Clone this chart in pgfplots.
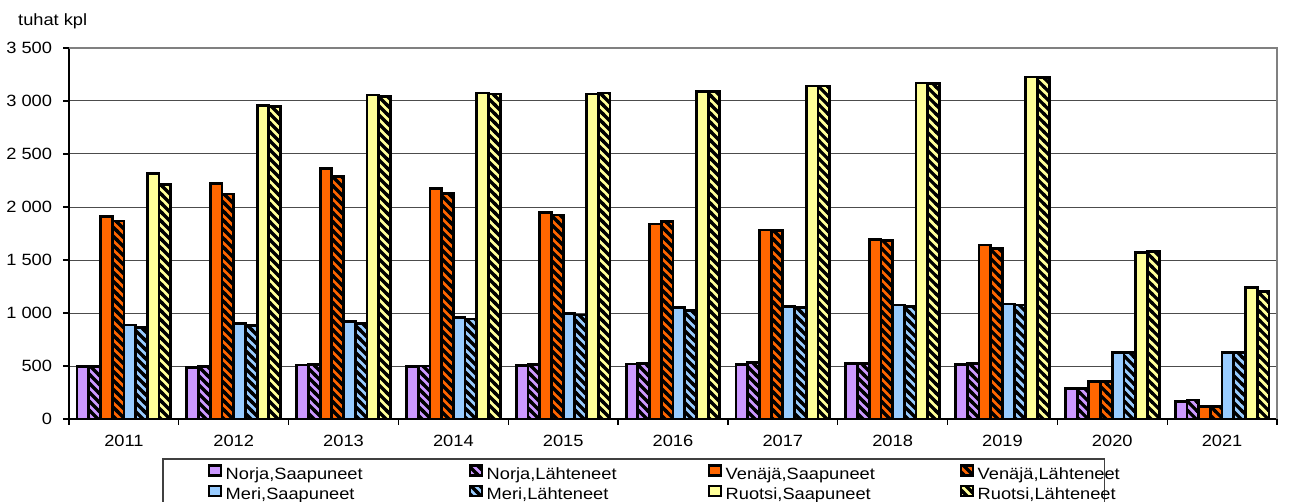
\documentclass[border=0pt]{standalone}
\usepackage{fontspec}
\setmainfont{Liberation Sans}[FakeStretch=1.12]
\usepackage{pgfplots}
\pgfplotsset{compat=1.18}
\usetikzlibrary{patterns}
\definecolor{norja}{HTML}{CC99FF}
\definecolor{venaja}{HTML}{FF6600}
\definecolor{meri}{HTML}{99CCFF}
\definecolor{ruotsi}{HTML}{FFFF99}
\pgfdeclarepatternformonly{wdd}{\pgfqpoint{-1pt}{-1pt}}{\pgfqpoint{10pt}{10pt}}{\pgfqpoint{9pt}{9pt}}{%
  \pgfsetlinewidth{3.2pt}%
  \pgfpathmoveto{\pgfqpoint{-1pt}{10pt}}\pgfpathlineto{\pgfqpoint{10pt}{-1pt}}%
  \pgfpathmoveto{\pgfqpoint{-1pt}{1pt}}\pgfpathlineto{\pgfqpoint{1pt}{-1pt}}%
  \pgfpathmoveto{\pgfqpoint{8pt}{10pt}}\pgfpathlineto{\pgfqpoint{10pt}{8pt}}%
  \pgfusepath{stroke}}
\tikzset{hatch/.style={postaction={pattern=wdd, pattern color=black}},
  bo/.style={draw=black, line width=2.8pt}}
\begin{document}
\fontsize{16.3}{19}\selectfont
\begin{tikzpicture}
\useasboundingbox (0,0) rectangle (1290pt,501pt);
\node[anchor=base west, inner sep=0pt] at (18pt,475pt) {tuhat kpl};
\begin{axis}[
  at={(69pt,82pt)}, anchor=south west,
  scale only axis, width=1208pt, height=371pt,
  ybar=0pt, bar width=11.71pt,
  xmin=-0.5, xmax=10.5, ymin=0, ymax=3500,
  enlargelimits=false,
  axis lines=left, axis line style={-, line width=1.5pt, black},
  tick align=outside, major tick length=5.5pt,
  tick style={black, line width=1.2pt},
  xtick={-0.5,0.5,...,10.5}, xticklabels={},
  extra x ticks={0,1,...,10},
  extra x tick labels={2011,2012,2013,2014,2015,2016,2017,2018,2019,2020,2021},
  extra x tick style={major tick length=0pt, grid=none},
  x tick label style={inner sep=0pt, yshift=-15.5pt},
  ytick={0,500,...,3500},
  yticklabels={0,500,1 000,1 500,2 000,2 500,3 000,3 500},
  y tick label style={inner sep=0pt, xshift=-11.3pt},
  ymajorgrids, grid style={black!70, line width=1pt},
  legend columns=4,
  legend image code/.code={\draw[#1, line width=2.2pt] (0pt,0.7pt) rectangle (12pt,10.7pt); \path (15.5pt,0pt);},
  legend style={at={(axis description cs:0.0778,-0.1078)}, anchor=north west,
    draw=black!75, line width=1.3pt, inner xsep=44.7pt, inner ysep=5.4pt, outer sep=0pt,
    nodes={inner sep=0pt, text height=12pt, text depth=5.5pt},
    /tikz/column sep=0pt, /tikz/row sep=0pt},
  after end axis/.code={\draw[black!50, line width=2pt] (rel axis cs:0,1) -- (rel axis cs:1,1) -- (rel axis cs:1,0);},
]
\addplot[bo, fill=norja] coordinates {(0,493) (1,484) (2,509) (3,494) (4,503) (5,519) (6,516) (7,525) (8,516) (9,290) (10,163)};
\addlegendentry{\makebox[243pt][l]{Norja,Saapuneet}}
\addplot[bo, fill=norja, hatch] coordinates {(0,493) (1,493) (2,516) (3,500) (4,516) (5,522) (6,535) (7,525) (8,525) (9,290) (10,179)};
\addlegendentry{\makebox[221pt][l]{Norja,Lähteneet}}
\addplot[bo, fill=venaja] coordinates {(0,1908) (1,2224) (2,2365) (3,2176) (4,1946) (5,1840) (6,1783) (7,1695) (8,1642) (9,352) (10,116)};
\addlegendentry{\makebox[234pt][l]{Venäjä,Saapuneet}}
\addplot[bo, fill=venaja, hatch] coordinates {(0,1868) (1,2123) (2,2286) (3,2129) (4,1925) (5,1865) (6,1777) (7,1686) (8,1607) (9,352) (10,116)};
\addlegendentry{\makebox[82pt][l]{Venäjä,Lähteneet}}
\addplot[bo, fill=meri] coordinates {(0,887) (1,903) (2,918) (3,956) (4,997) (5,1050) (6,1060) (7,1075) (8,1085) (9,629) (10,629)};
\addlegendentry{\makebox[243pt][l]{Meri,Saapuneet}}
\addplot[bo, fill=meri, hatch] coordinates {(0,861) (1,884) (2,903) (3,943) (4,981) (5,1022) (6,1050) (7,1060) (8,1075) (9,629) (10,629)};
\addlegendentry{\makebox[221pt][l]{Meri,Lähteneet}}
\addplot[bo, fill=ruotsi] coordinates {(0,2318) (1,2956) (2,3057) (3,3075) (4,3066) (5,3092) (6,3142) (7,3170) (8,3226) (9,1573) (10,1239)};
\addlegendentry{\makebox[234pt][l]{Ruotsi,Saapuneet}}
\addplot[bo, fill=ruotsi, hatch] coordinates {(0,2214) (1,2950) (2,3041) (3,3066) (4,3075) (5,3092) (6,3142) (7,3168) (8,3224) (9,1582) (10,1201)};
\addlegendentry{\makebox[82pt][l]{Ruotsi,Lähteneet}}
\end{axis}
\end{tikzpicture}
\end{document}
